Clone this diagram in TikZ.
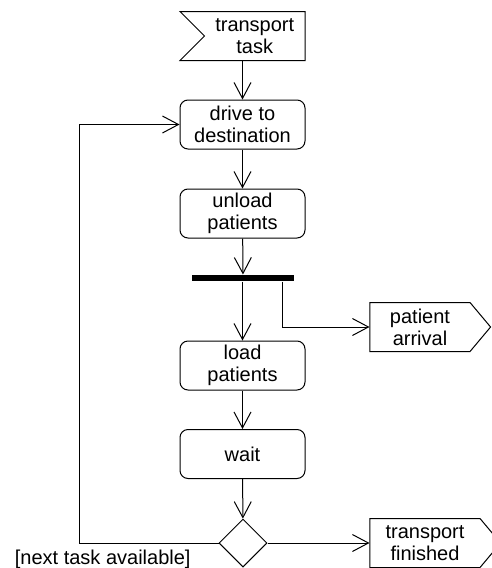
\documentclass[tikz,border=0pt]{standalone}
\usepackage{fontspec}
\setmainfont{Liberation Sans}
\usepackage{tikz}
\usetikzlibrary{arrows.meta, shapes.geometric, shapes.symbols}

\begin{document}
\begin{tikzpicture}[x=0.5pt, y=-0.5pt, line width=0.5pt,
    >={Straight Barb[length=8pt, width=8.5pt, line width=0.5pt]},
    every node/.style={font=\fontsize{10}{11}\selectfont, align=center},
    action/.style={draw, rounded corners=4pt, minimum width=62.5pt, minimum height=24.5pt, inner sep=1pt},
    recvsig/.style={draw, signal, signal from=west, signal to=nowhere, minimum height=24.5pt, inner sep=1pt},
    sendsig/.style={draw, signal, signal to=east, signal pointer angle=100, minimum height=24.5pt, inner sep=1pt},
    forkbar/.style={fill=black, minimum width=51pt, minimum height=3pt, inner sep=0pt},
    decision/.style={draw, diamond, minimum size=24pt, inner sep=0pt}]
    \useasboundingbox (0,0) rectangle (492,568);
    \node[recvsig, minimum width=62.5pt] (task) at (254.75,36){transport\\task};
    \node[action] (drive) at (242.5,124.5){drive to\\destination};
    \node[action] (unload) at (242.5,213.5){unload\\patients};
    \node[forkbar] (bar) at (243,278){};
    \node[action] (load) at (242.5,365.5){load\\patients};
    \node[action] (wait) at (242.5,454){wait};
    \node[decision] (dec) at (243,543){};
    \node[sendsig, minimum width=60.3pt] (arrival) at (420,327){patient\\arrival};
    \node[sendsig, minimum width=65.3pt] (finished) at (425,543){transport\\finished};
    \coordinate (loop) at (79,543);
    \draw[->] (task.south -| drive.north)--(drive.north);
    \draw[->] (drive)--(unload);
    \draw[->] (unload)--(bar);
    \draw[->] (bar.south -| load.north)--(load);
    \draw[->] ([xshift=-6pt]bar.south east) |- (arrival.west);
    \draw[->] (load)--(wait);
    \draw[->] (wait)--(dec);
    \draw[->] (dec.west)--(loop) node[pos=0.83, below, inner sep=3.5pt]{[next task available]} |- (drive.west);
    \draw[->] (dec.east)--(finished.west);
  \end{tikzpicture}
\end{document}
